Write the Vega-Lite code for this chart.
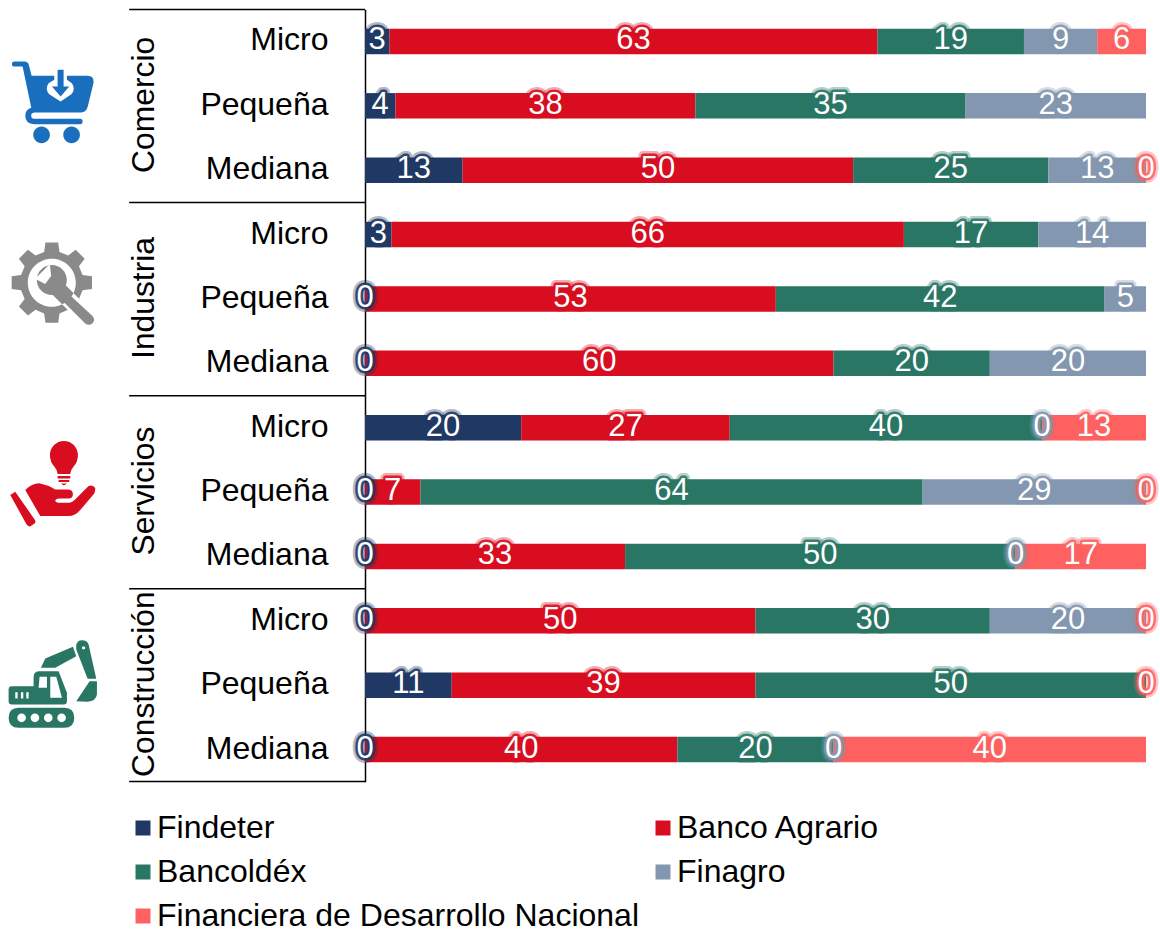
{"$schema":"https://vega.github.io/schema/vega-lite/v6.json","width":1160,"height":929,"padding":0,"autosize":"none","background":"white","config":{"view":{"stroke":null},"font":"Liberation Sans"},
"datasets":{"bars":[
{"row":"Comercio|Micro","series":"Findeter","ord":1,"value":3.125},{"row":"Comercio|Micro","series":"Banco Agrario","ord":2,"value":62.5},{"row":"Comercio|Micro","series":"Bancoldéx","ord":3,"value":18.75},{"row":"Comercio|Micro","series":"Finagro","ord":4,"value":9.375},{"row":"Comercio|Micro","series":"Financiera de Desarrollo Nacional","ord":5,"value":6.25},
{"row":"Comercio|Pequeña","series":"Findeter","ord":1,"value":3.9},{"row":"Comercio|Pequeña","series":"Banco Agrario","ord":2,"value":38.4},{"row":"Comercio|Pequeña","series":"Bancoldéx","ord":3,"value":34.6},{"row":"Comercio|Pequeña","series":"Finagro","ord":4,"value":23.1},
{"row":"Comercio|Mediana","series":"Findeter","ord":1,"value":12.5},{"row":"Comercio|Mediana","series":"Banco Agrario","ord":2,"value":50},{"row":"Comercio|Mediana","series":"Bancoldéx","ord":3,"value":25},{"row":"Comercio|Mediana","series":"Finagro","ord":4,"value":12.5},{"row":"Comercio|Mediana","series":"Financiera de Desarrollo Nacional","ord":5,"value":0},
{"row":"Industria|Micro","series":"Findeter","ord":1,"value":3.4},{"row":"Industria|Micro","series":"Banco Agrario","ord":2,"value":65.6},{"row":"Industria|Micro","series":"Bancoldéx","ord":3,"value":17.2},{"row":"Industria|Micro","series":"Finagro","ord":4,"value":13.8},
{"row":"Industria|Pequeña","series":"Findeter","ord":1,"value":0},{"row":"Industria|Pequeña","series":"Banco Agrario","ord":2,"value":52.6},{"row":"Industria|Pequeña","series":"Bancoldéx","ord":3,"value":42.1},{"row":"Industria|Pequeña","series":"Finagro","ord":4,"value":5.3},
{"row":"Industria|Mediana","series":"Findeter","ord":1,"value":0},{"row":"Industria|Mediana","series":"Banco Agrario","ord":2,"value":60},{"row":"Industria|Mediana","series":"Bancoldéx","ord":3,"value":20},{"row":"Industria|Mediana","series":"Finagro","ord":4,"value":20},
{"row":"Servicios|Micro","series":"Findeter","ord":1,"value":20},{"row":"Servicios|Micro","series":"Banco Agrario","ord":2,"value":26.7},{"row":"Servicios|Micro","series":"Bancoldéx","ord":3,"value":40},{"row":"Servicios|Micro","series":"Finagro","ord":4,"value":0},{"row":"Servicios|Micro","series":"Financiera de Desarrollo Nacional","ord":5,"value":13.3},
{"row":"Servicios|Pequeña","series":"Findeter","ord":1,"value":0},{"row":"Servicios|Pequeña","series":"Banco Agrario","ord":2,"value":7.1},{"row":"Servicios|Pequeña","series":"Bancoldéx","ord":3,"value":64.3},{"row":"Servicios|Pequeña","series":"Finagro","ord":4,"value":28.6},{"row":"Servicios|Pequeña","series":"Financiera de Desarrollo Nacional","ord":5,"value":0},
{"row":"Servicios|Mediana","series":"Findeter","ord":1,"value":0},{"row":"Servicios|Mediana","series":"Banco Agrario","ord":2,"value":33.3},{"row":"Servicios|Mediana","series":"Bancoldéx","ord":3,"value":50},{"row":"Servicios|Mediana","series":"Finagro","ord":4,"value":0},{"row":"Servicios|Mediana","series":"Financiera de Desarrollo Nacional","ord":5,"value":16.7},
{"row":"Construcción|Micro","series":"Findeter","ord":1,"value":0},{"row":"Construcción|Micro","series":"Banco Agrario","ord":2,"value":50},{"row":"Construcción|Micro","series":"Bancoldéx","ord":3,"value":30},{"row":"Construcción|Micro","series":"Finagro","ord":4,"value":20},{"row":"Construcción|Micro","series":"Financiera de Desarrollo Nacional","ord":5,"value":0},
{"row":"Construcción|Pequeña","series":"Findeter","ord":1,"value":11.1},{"row":"Construcción|Pequeña","series":"Banco Agrario","ord":2,"value":38.9},{"row":"Construcción|Pequeña","series":"Bancoldéx","ord":3,"value":50},{"row":"Construcción|Pequeña","series":"Financiera de Desarrollo Nacional","ord":5,"value":0},
{"row":"Construcción|Mediana","series":"Findeter","ord":1,"value":0},{"row":"Construcción|Mediana","series":"Banco Agrario","ord":2,"value":40},{"row":"Construcción|Mediana","series":"Bancoldéx","ord":3,"value":20},{"row":"Construcción|Mediana","series":"Finagro","ord":4,"value":0},{"row":"Construcción|Mediana","series":"Financiera de Desarrollo Nacional","ord":5,"value":40}
],
"groups":[{"row":"Comercio|Pequeña","group":"Comercio"},{"row":"Industria|Pequeña","group":"Industria"},{"row":"Servicios|Pequeña","group":"Servicios"},{"row":"Construcción|Pequeña","group":"Construcción"}],
"tops":[{"row":"Comercio|Micro"},{"row":"Industria|Micro"},{"row":"Servicios|Micro"},{"row":"Construcción|Micro"}],
"bottom":[{"row":"Construcción|Mediana"}],
"cart":[{"row":"Comercio|Pequeña"}],"gear":[{"row":"Industria|Pequeña"}],"hand":[{"row":"Servicios|Pequeña"}],"digger":[{"row":"Construcción|Pequeña"}]},
"layer":[
{"data":{"name":"bars"},"mark":{"type":"bar","stroke":null},"encoding":{
"y":{"field":"row","type":"nominal","title":null,"scale":{"type":"band","domain":["Comercio|Micro","Comercio|Pequeña","Comercio|Mediana","Industria|Micro","Industria|Pequeña","Industria|Mediana","Servicios|Micro","Servicios|Pequeña","Servicios|Mediana","Construcción|Micro","Construcción|Pequeña","Construcción|Mediana"],"range":[9.3,781.7],"paddingInner":0.604,"paddingOuter":0.302},
"axis":{"offset":-365,"orient":"left","ticks":false,"labelPadding":37,"labelFontSize":32,"labelFont":"Liberation Sans","labelColor":"black","labelOffset":-1,"labelLimit":300,"domainColor":"#000000","domainWidth":1.5,"labelExpr":"split(datum.label,'|')[1]","grid":false}},
"x":{"field":"value","type":"quantitative","stack":"zero","title":null,"axis":null,"scale":{"domain":[0,100],"range":[365,1146],"nice":false,"zero":false}},
"order":{"field":"ord","type":"quantitative"},
"color":{"field":"series","type":"nominal","scale":{"domain":["Findeter","Banco Agrario","Bancoldéx","Finagro","Financiera de Desarrollo Nacional"],"range":["#1F3864","#D90D20","#297665","#8497B0","#FF6161"]},
"legend":{"title":null,"orient":"none","direction":"horizontal","legendX":127,"legendY":812,"columns":2,"symbolType":"square","symbolSize":225,"symbolStrokeWidth":0,"labelFontSize":32,"labelFont":"Liberation Sans","labelColor":"black","labelOffset":-2,"rowPadding":12,"columnPadding":7,"labelLimit":600}}}},
{"data":{"name":"bars"},"mark":{"type":"text","fontSize":31,"dy":-1,"strokeWidth":10,"strokeOpacity":0.35,"strokeJoin":"round","font":"Liberation Sans"},"encoding":{
"y":{"field":"row","type":"nominal","title":null},"x":{"field":"value","type":"quantitative","stack":"zero","bandPosition":0.5,"axis":null},"order":{"field":"ord","type":"quantitative"},"detail":{"field":"series"},"text":{"field":"value","type":"quantitative","format":".0f"},"stroke":{"field":"series","type":"nominal","legend":null,"scale":{"domain":["Findeter","Banco Agrario","Bancoldéx","Finagro","Financiera de Desarrollo Nacional"],"range":["#1F3864","#D90D20","#297665","#8497B0","#FF6161"]}}}},
{"data":{"name":"bars"},"mark":{"type":"text","fontSize":31,"dy":-1,"strokeWidth":5,"strokeOpacity":0.9,"strokeJoin":"round","font":"Liberation Sans"},"encoding":{
"y":{"field":"row","type":"nominal","title":null},"x":{"field":"value","type":"quantitative","stack":"zero","bandPosition":0.5,"axis":null},"order":{"field":"ord","type":"quantitative"},"detail":{"field":"series"},"text":{"field":"value","type":"quantitative","format":".0f"},"stroke":{"field":"series","type":"nominal","legend":null,"scale":{"domain":["Findeter","Banco Agrario","Bancoldéx","Finagro","Financiera de Desarrollo Nacional"],"range":["#1F3864","#D90D20","#297665","#8497B0","#FF6161"]}}}},
{"data":{"name":"bars"},"mark":{"type":"text","fontSize":31,"dy":-1,"color":"white","font":"Liberation Sans"},"encoding":{
"y":{"field":"row","type":"nominal","title":null},"x":{"field":"value","type":"quantitative","stack":"zero","bandPosition":0.5,"axis":null},"order":{"field":"ord","type":"quantitative"},"detail":{"field":"series"},"text":{"field":"value","type":"quantitative","format":".0f"}}},
{"data":{"name":"tops"},"mark":{"type":"rule","color":"black","strokeWidth":1.5},"encoding":{"y":{"field":"row","type":"nominal","bandPosition":-0.755,"title":null},"x":{"datum":-30.2,"type":"quantitative","axis":null},"x2":{"datum":0}}},
{"data":{"name":"bottom"},"mark":{"type":"rule","color":"black","strokeWidth":1.5},"encoding":{"y":{"field":"row","type":"nominal","bandPosition":1.755,"title":null},"x":{"datum":-30.2,"type":"quantitative","axis":null},"x2":{"datum":0}}},
{"data":{"name":"groups"},"mark":{"type":"text","fontSize":31.8,"angle":270,"align":"center","baseline":"alphabetic","color":"black","font":"Liberation Sans","yOffset":-1},"encoding":{"y":{"field":"row","type":"nominal","title":null},"x":{"datum":-27,"type":"quantitative","axis":null},"text":{"field":"group"}}},
{"data":{"name":"cart"},"mark":{"type":"point","filled":true,"opacity":1,"size":0.4444,"color":"#1A6EBE","shape":"M-122,-125 Q-122,-133 -114,-133 L-84,-133 Q-74,-133 -71,-122 L-63,-90 L105,-90 Q125,-90 123,-70 L106,0 Q102,20 85,20 L-55,20 Q-66,22 -64,32 Q-64,39 -52,39 L83,39 Q90,39 90,47 Q90,55 83,55 L-55,55 Q-82,55 -82,30 Q-82,12 -64,6 L-90,-118 L-114,-118 Q-122,-118 -122,-125 Z M-58,87 a25,25 0 1,0 50,0 a25,25 0 1,0 -50,0 Z M32,87 a25,25 0 1,0 50,0 a25,25 0 1,0 -50,0 Z"},"encoding":{"y":{"field":"row","type":"nominal","title":null},"x":{"datum":-40,"type":"quantitative","axis":null}}},
{"data":{"name":"cart"},"mark":{"type":"point","filled":true,"opacity":1,"size":0.4444,"color":"white","shape":"M24,-13 L-10,-35 Q-24,-50 -12,-68 L5,-78 L5,-96 L43,-96 L43,-78 L58,-68 Q70,-50 56,-35 Z"},"encoding":{"y":{"field":"row","type":"nominal","title":null},"x":{"datum":-40,"type":"quantitative","axis":null}}},
{"data":{"name":"cart"},"mark":{"type":"point","filled":true,"opacity":1,"size":0.4444,"color":"#1A6EBE","shape":"M15,-108 L33,-108 L33,-58 L50,-58 L24,-28 L-2,-58 L15,-58 Z"},"encoding":{"y":{"field":"row","type":"nominal","title":null},"x":{"datum":-40,"type":"quantitative","axis":null}}},
{"data":{"name":"gear"},"mark":{"type":"point","filled":true,"opacity":1,"size":0.4444,"color":"#8A8A8A","yOffset":-16.3,"shape":"M92.2,-23 L120.5,-19.1 L120.5,19.1 L92.2,23 L81.4,48.9 L98.7,71.7 L71.7,98.7 L48.9,81.4 L23,92.2 L19.1,120.5 L-19.1,120.5 L-23,92.2 L-48.9,81.4 L-71.7,98.7 L-98.7,71.7 L-81.4,48.9 L-92.2,23 L-120.5,19.1 L-120.5,-19.1 L-92.2,-23 L-81.4,-48.9 L-98.7,-71.7 L-71.7,-98.7 L-48.9,-81.4 L-23,-92.2 L-19.1,-120.5 L19.1,-120.5 L23,-92.2 L48.9,-81.4 L71.7,-98.7 L98.7,-71.7 L81.4,-48.9 Z"},"encoding":{"y":{"field":"row","type":"nominal","title":null},"x":{"datum":-40.1,"type":"quantitative","axis":null}}},
{"data":{"name":"gear"},"mark":{"type":"point","filled":true,"opacity":1,"size":0.4444,"color":"white","yOffset":-16.3,"shape":"M-72,0 a72,72 0 1,0 144,0 a72,72 0 1,0 -144,0 Z M0,34 L34,0 L130,96 L96,130 Z"},"encoding":{"y":{"field":"row","type":"nominal","title":null},"x":{"datum":-40.1,"type":"quantitative","axis":null}}},
{"data":{"name":"gear"},"mark":{"type":"point","filled":true,"opacity":1,"size":0.4444,"color":"#8A8A8A","yOffset":-16.3,"shape":"M-45,-8 a45,45 0 1,0 90,0 a45,45 0 1,0 -90,0 Z M25,10 L122,100 Q132,112 122,122 Q110,132 98,120 L8,30 Z"},"encoding":{"y":{"field":"row","type":"nominal","title":null},"x":{"datum":-40.1,"type":"quantitative","axis":null}}},
{"data":{"name":"gear"},"mark":{"type":"point","filled":true,"opacity":1,"size":0.4444,"color":"white","yOffset":-16.3,"shape":"M-6,-56 L-50,-12 L-20,4 L-2,-20 Z"},"encoding":{"y":{"field":"row","type":"nominal","title":null},"x":{"datum":-40.1,"type":"quantitative","axis":null}}},
{"data":{"name":"hand"},"mark":{"type":"point","filled":true,"opacity":1,"size":0.4444,"color":"#D90D20","shape":"M-8,-111 a42,42 0 1,1 84,0 Q76,-90 62,-75 Q55,-68 53,-54 L15,-54 Q13,-68 6,-75 Q-8,-90 -8,-111 Z M15,-48 L53,-48 L53,-41 L15,-41 Z M18,-36 L50,-36 L50,-30 L18,-30 Z M25,-26 L43,-26 L34,-20 Z M-82,-6 Q-60,-28 -37,-26 Q-15,-22 8,-8 L48,-8 Q61,-6 61,7 Q60,19 48,19 L20,19 Q8,20 8,26 Q10,32 22,32 L50,32 Q58,32 66,24 L108,-18 Q120,-24 128,-12 Q128,-2 125,4 L83,54 Q68,72 48,72 L-37,72 Z M-127,9 L-112,-1 L-52,85 Q-50,92 -56,96 L-68,103 Q-74,103 -78,97 Z"},"encoding":{"y":{"field":"row","type":"nominal","title":null},"x":{"datum":-40,"type":"quantitative","axis":null}}},
{"data":{"name":"digger"},"mark":{"type":"point","filled":true,"opacity":1,"size":0.4444,"color":"#297665","shape":"M-102,68 L35,68 Q65,68 65,98 Q65,128 35,128 L-102,128 Q-132,128 -132,98 Q-132,68 -102,68 Z M-132,13 Q-132,3 -122,3 L-57,3 L-57,-27 Q-55,-42 -40,-42 L18,-42 L43,23 L43,48 Q43,58 33,58 L-122,58 Q-132,58 -132,48 Z M-35,-52 L-22,-80 L61,-115 L71,-87 L8,-52 Z M71,-122 Q75,-135 88,-135 Q104,-135 108,-122 L131,-19 L105,-19 L71,-107 Z M111,-12 L133,-12 L133,28 Q130,48 105,50 L71,48 Z"},"encoding":{"y":{"field":"row","type":"nominal","title":null},"x":{"datum":-40,"type":"quantitative","axis":null}}},
{"data":{"name":"digger"},"mark":{"type":"point","filled":true,"opacity":1,"size":0.4444,"color":"white","shape":"M-39,-25 L-17,-25 L-17,8 L-42,8 Z M-7,-25 L11,-25 L28,38 L-7,38 Z M-112,21 L-105,21 L-105,40 L-112,40 Z M-95,21 L-88,21 L-88,40 L-95,40 Z M-79,21 L-72,21 L-72,40 L-79,40 Z M-106,98 a13,13 0 1,0 26,0 a13,13 0 1,0 -26,0 Z M-66,98 a13,13 0 1,0 26,0 a13,13 0 1,0 -26,0 Z M-26,98 a13,13 0 1,0 26,0 a13,13 0 1,0 -26,0 Z M14,98 a13,13 0 1,0 26,0 a13,13 0 1,0 -26,0 Z M88,-112 a5,5 0 1,0 10,0 a5,5 0 1,0 -10,0 Z"},"encoding":{"y":{"field":"row","type":"nominal","title":null},"x":{"datum":-40,"type":"quantitative","axis":null}}}
]}
